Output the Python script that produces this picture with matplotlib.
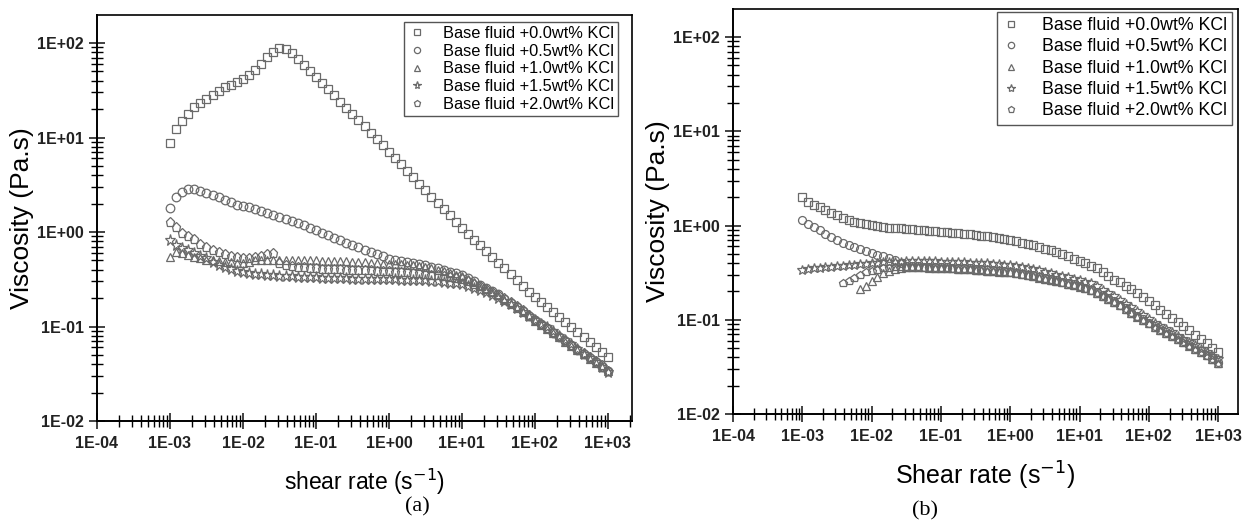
import numpy as np
import matplotlib.pyplot as plt
from matplotlib.ticker import LogLocator, FuncFormatter, NullFormatter

plt.rcParams['font.family'] = ['Liberation Sans', 'DejaVu Sans']

nan = np.nan

# shear rate grid: 12 points per decade, 1E-03 .. 1E+03
mantissa = [1.000, 1.212, 1.468, 1.778, 2.154, 2.610, 3.162, 3.831, 4.642, 5.623, 6.813, 8.254]
shear_rate = [m * 10.0 ** d for d in range(-3, 3) for m in mantissa] + [1000.0]

labels = ['Base fluid +0.0wt% KCl', 'Base fluid +0.5wt% KCl', 'Base fluid +1.0wt% KCl',
          'Base fluid +1.5wt% KCl', 'Base fluid +2.0wt% KCl']

# ---- panel (a) viscosity, Pa.s ----
kcl00_a = [8.7, 12.3, 14.8, 17.8, 20.9, 23.4, 25.7, 28.5, 31.3, 33.9, 36.3, 38.9, 41.7, 46.2, 51.3, 60.3,
           70.8, 81.3, 88.0, 87.0, 79.0,
           68.4, 58.9, 50.7, 43.7, 37.6, 32.4, 27.9, 24.0, 20.7, 17.8, 15.3, 13.2, 11.2, 9.66, 8.32, 7.08,
           6.03, 5.19, 4.42, 3.80, 3.24, 2.79, 2.37, 2.04, 1.74, 1.50, 1.27, 1.10,
           0.955, 0.832, 0.724, 0.624, 0.543, 0.473, 0.412, 0.359, 0.309, 0.269, 0.234, 0.204,
           0.182, 0.160, 0.143, 0.126, 0.112, 0.0989, 0.0871, 0.0776, 0.0684, 0.0610, 0.0537, 0.0479]
kcl05_a = [1.80, 2.34, 2.65, 2.85, 2.85, 2.72, 2.59, 2.47, 2.35, 2.18, 2.08, 1.93, 1.88, 1.84, 1.75, 1.67,
           1.59, 1.51, 1.44, 1.37, 1.31, 1.25, 1.19, 1.10, 1.05, 0.975, 0.929, 0.865, 0.823, 0.765, 0.728,
           0.694, 0.645, 0.614, 0.585, 0.557, 0.518,
           0.505, 0.493, 0.481, 0.469, 0.458, 0.447, 0.430, 0.412, 0.396, 0.380, 0.366, 0.351,
           0.324, 0.300, 0.277, 0.256, 0.237, 0.219, 0.197, 0.178, 0.160, 0.145, 0.130, 0.117,
           0.106, 0.0955, 0.0861, 0.0776, 0.0700, 0.0631, 0.0569, 0.0513, 0.0462, 0.0417, 0.0376, 0.0339]
kcl10_a = [0.54, 0.62, 0.60, 0.57, 0.55, 0.53, 0.51, 0.50, 0.49, 0.48, 0.48, 0.47, 0.47, 0.48, 0.50, 0.50,
           0.51, 0.51, 0.51, 0.51, 0.50, 0.50, 0.50, 0.50, 0.50, 0.49, 0.49, 0.49, 0.49, 0.49, 0.48,
           0.48, 0.48, 0.47, 0.47, 0.46, 0.46,
           0.46, 0.455, 0.45, 0.445, 0.44, 0.43, 0.415, 0.40, 0.385, 0.37, 0.355, 0.34,
           0.315, 0.293, 0.271, 0.251, 0.232, 0.214, 0.193, 0.174, 0.157, 0.142, 0.128, 0.115,
           0.104, 0.0940, 0.0850, 0.0767, 0.0692, 0.0625, 0.0563, 0.0508, 0.0458, 0.0413, 0.0373, 0.0336]
kcl15_a = [0.82, 0.73, 0.68, 0.645, 0.60, 0.557, 0.53, 0.48, 0.448, 0.427, 0.405, 0.386, 0.378, 0.370,
           0.363, 0.356, 0.352, 0.348, 0.345, 0.342, 0.340, 0.338, 0.336, 0.334, 0.332, 0.330, 0.328,
           0.326, 0.325, 0.323, 0.322, 0.321, 0.320, 0.318, 0.317, 0.316, 0.315,
           0.315, 0.314, 0.313, 0.312, 0.310, 0.307, 0.305, 0.302, 0.297, 0.292, 0.287, 0.282,
           0.270, 0.257, 0.245, 0.234, 0.216, 0.200, 0.186, 0.174, 0.158, 0.144, 0.130, 0.117,
           0.107, 0.0977, 0.0891, 0.0794, 0.0717, 0.0648, 0.0582, 0.0513, 0.0463, 0.0418, 0.0376, 0.0331]
kcl20_a = [1.28, 1.13, 0.975, 0.908, 0.844, 0.75, 0.69, 0.645, 0.61, 0.585, 0.557, 0.54, 0.53, 0.53,
           0.54, 0.557, 0.585, 0.60, 0.47, 0.45, 0.44, 0.43, 0.425, 0.42, 0.415, 0.41, 0.41, 0.405,
           0.405, 0.40, 0.40, 0.40, 0.395, 0.395, 0.39, 0.39, 0.385,
           0.382, 0.378, 0.374, 0.370, 0.365, 0.360, 0.354, 0.347, 0.340, 0.332, 0.324, 0.316,
           0.300, 0.284, 0.268, 0.252, 0.234, 0.217, 0.199, 0.182, 0.164, 0.148, 0.132, 0.118,
           0.107, 0.0965, 0.0873, 0.0790, 0.0714, 0.0645, 0.0583, 0.0527, 0.0476, 0.0430, 0.0388, 0.0339]

# ---- panel (b) viscosity, Pa.s ----
kcl00_b = [2.0, 1.77, 1.65, 1.57, 1.46, 1.36, 1.29, 1.20, 1.14, 1.09, 1.06, 1.04, 1.01, 0.98, 0.96, 0.95,
           0.94, 0.93, 0.92, 0.91, 0.90, 0.89, 0.88, 0.87, 0.86, 0.85, 0.84, 0.83, 0.82, 0.81, 0.795,
           0.78, 0.765, 0.75, 0.735, 0.72, 0.70, 0.68, 0.66, 0.64, 0.62, 0.595, 0.57, 0.545, 0.52,
           0.495, 0.47, 0.445, 0.425, 0.40, 0.375, 0.35, 0.32, 0.29, 0.265, 0.25, 0.23, 0.21, 0.193,
           0.175, 0.16, 0.145, 0.127, 0.115, 0.104, 0.095, 0.086, 0.077, 0.069, 0.062, 0.056, 0.050, 0.045]
kcl05_b = [1.14, 1.05, 0.96, 0.89, 0.82, 0.76, 0.70, 0.66, 0.62, 0.59, 0.56, 0.53, 0.51, 0.49, 0.47, 0.45,
           0.43, 0.40,
           0.372, 0.370, 0.368, 0.367, 0.365, 0.364, 0.363, 0.361, 0.358, 0.355, 0.353, 0.350, 0.347,
           0.343, 0.339, 0.335, 0.332, 0.328, 0.324, 0.316, 0.309, 0.302, 0.295, 0.286, 0.278, 0.271,
           0.263, 0.254, 0.246, 0.237, 0.229, 0.219, 0.209, 0.195, 0.182, 0.170, 0.158, 0.145, 0.132,
           0.121, 0.110, 0.101, 0.0933, 0.0861, 0.0794, 0.0737, 0.0684, 0.0634, 0.0589, 0.0543, 0.0501,
           0.0462, 0.0427, 0.0389, 0.0355]
kcl10_b = [nan, nan, nan, nan, nan, nan, nan, nan, nan, nan,
           0.21, 0.23, 0.26, 0.285, 0.31, 0.33, 0.345, 0.355,
           0.365, 0.363, 0.361, 0.360, 0.358, 0.357, 0.356, 0.354, 0.351, 0.348, 0.346, 0.343, 0.340,
           0.336, 0.332, 0.328, 0.325, 0.321, 0.318, 0.310, 0.303, 0.296, 0.289, 0.280, 0.272, 0.266,
           0.258, 0.249, 0.241, 0.232, 0.224, 0.215, 0.205, 0.191, 0.178, 0.167, 0.155, 0.142, 0.129,
           0.119, 0.108, 0.099, 0.0915, 0.0844, 0.0778, 0.0722, 0.0670, 0.0621, 0.0577, 0.0532, 0.0491,
           0.0453, 0.0418, 0.0381, 0.0348]
kcl15_b = [0.337, 0.345, 0.35, 0.355, 0.36, 0.365, 0.37, 0.375, 0.38, 0.385, 0.39, 0.395, 0.40, 0.405,
           0.41, 0.41, 0.415, 0.415,
           0.42, 0.42, 0.42, 0.42, 0.418, 0.416, 0.414, 0.412, 0.41, 0.408, 0.406, 0.404, 0.402, 0.40,
           0.398, 0.394, 0.39, 0.385, 0.380, 0.371, 0.363, 0.355, 0.347, 0.335, 0.324, 0.313, 0.302,
           0.292, 0.282, 0.272, 0.263, 0.254, 0.245, 0.226, 0.209, 0.193, 0.178, 0.162, 0.148, 0.135,
           0.123, 0.112, 0.102, 0.0933, 0.0851, 0.0790, 0.0733, 0.0680, 0.0631, 0.0582, 0.0537, 0.0495,
           0.0457, 0.0417, 0.0380]
kcl20_b = [nan, nan, nan, nan, nan, nan, nan,
           0.245, 0.26, 0.28, 0.30, 0.32, 0.33, 0.34, 0.35, 0.355, 0.36, 0.36,
           0.357, 0.355, 0.353, 0.352, 0.350, 0.349, 0.348, 0.347, 0.344, 0.341, 0.339, 0.336, 0.333,
           0.329, 0.325, 0.322, 0.319, 0.315, 0.311, 0.303, 0.297, 0.290, 0.283, 0.275, 0.267, 0.260,
           0.252, 0.244, 0.236, 0.228, 0.220, 0.210, 0.201, 0.187, 0.175, 0.163, 0.152, 0.139, 0.127,
           0.116, 0.106, 0.097, 0.0896, 0.0827, 0.0762, 0.0707, 0.0657, 0.0609, 0.0565, 0.0521, 0.0481,
           0.0444, 0.0410, 0.0373, 0.0341]

markers = ['s', 'o', '^', '*', 'p']
sizes = [6.2, 6.2, 6.2, 8.2, 6.7]
edge = '#6a6a6a'


def sci_label(v, pos):
    return '1E%+03d' % int(round(np.log10(v)))


def style_axes(ax, xmax, ymax, xlabel, xlabel_size):
    ax.set_xscale('log')
    ax.set_yscale('log')
    ax.set_xlim(1e-4, xmax)
    ax.set_ylim(1e-2, ymax)
    ax.xaxis.set_major_locator(LogLocator(base=10, numticks=20))
    ax.yaxis.set_major_locator(LogLocator(base=10, numticks=20))
    ax.xaxis.set_minor_locator(LogLocator(base=10, subs=np.arange(2, 10), numticks=20))
    ax.yaxis.set_minor_locator(LogLocator(base=10, subs=np.arange(2, 10), numticks=20))
    ax.xaxis.set_major_formatter(FuncFormatter(sci_label))
    ax.yaxis.set_major_formatter(FuncFormatter(sci_label))
    ax.xaxis.set_minor_formatter(NullFormatter())
    ax.yaxis.set_minor_formatter(NullFormatter())
    ax.tick_params(which='major', direction='inout', length=11, width=1.2, labelsize=11.5,
                   colors='#222222', top=False, right=False)
    ax.tick_params(which='minor', direction='inout', length=8, width=1.0, top=False, right=False)
    ax.tick_params(axis='x', which='major', pad=5)
    ax.tick_params(axis='y', which='major', pad=4)
    for lab in ax.get_xticklabels() + ax.get_yticklabels():
        lab.set_fontweight('bold')
    for side in ['left', 'bottom']:
        ax.spines[side].set_linewidth(1.4)
    for side in ['top', 'right']:
        ax.spines[side].set_linewidth(1.2)
    ax.set_ylabel('Viscosity (Pa.s)', fontsize=19, labelpad=2)
    ax.set_xlabel(xlabel, fontsize=xlabel_size, labelpad=12)


fig = plt.figure(figsize=(12.45, 5.25), dpi=100)
ax_a = fig.add_axes([0.0779, 0.1981, 0.4297, 0.7733])
ax_b = fig.add_axes([0.5888, 0.2114, 0.4056, 0.7714])

series_a = [kcl00_a, kcl05_a, kcl10_a, kcl15_a, kcl20_a]
series_b = [kcl00_b, kcl05_b, kcl10_b, kcl15_b, kcl20_b]

for ax, series, scale in [(ax_a, series_a, 1.0), (ax_b, series_b, 0.92)]:
    for vals, mk, ms, lab in zip(series, markers, sizes, labels):
        ax.plot(shear_rate, vals, linestyle='none', marker=mk, markersize=ms * scale,
                markerfacecolor='none', markeredgecolor=edge, markeredgewidth=0.9, label=lab)

style_axes(ax_a, 2140, 198, r'shear rate (s$^{-1}$)', 16.5)
style_axes(ax_b, 1940, 198, r'Shear rate (s$^{-1}$)', 18)

leg_a = ax_a.legend(loc='upper right', bbox_to_anchor=(0.974, 0.983), borderaxespad=0,
                    fancybox=False, edgecolor='#555555', framealpha=1, fontsize=11.8,
                    markerscale=0.72, handlelength=1.0, handletextpad=1.1, labelspacing=0.16,
                    borderpad=0.25)
leg_b = ax_b.legend(loc='upper right', bbox_to_anchor=(0.988, 0.993), borderaxespad=0,
                    fancybox=False, edgecolor='#555555', framealpha=1, fontsize=12.8,
                    markerscale=0.8, handlelength=1.0, handletextpad=1.2, labelspacing=0.24,
                    borderpad=0.3)
for leg in (leg_a, leg_b):
    leg.get_frame().set_linewidth(1.0)

fig.text(417 / 1245, 1 - 507 / 525, '(a)', ha='center', va='center', fontsize=16,
         family='Liberation Serif')
fig.text(925 / 1245, 1 - 511 / 525, '(b)', ha='center', va='center', fontsize=16,
         family='Liberation Serif')

fig.savefig('out.png', dpi=100)
